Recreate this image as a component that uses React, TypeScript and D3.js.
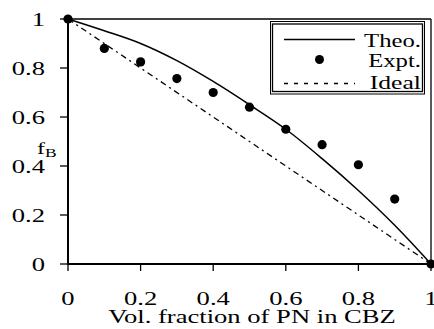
import React from "react";
import * as d3 from "d3";

const xValues = [0, 0.1, 0.2, 0.3, 0.4, 0.5, 0.6, 0.7, 0.8, 0.9, 1];
const theoValues = [1, 0.952, 0.9, 0.83, 0.745, 0.65, 0.55, 0.43, 0.3, 0.158, 0];
const exptValues = [1, 0.88, 0.825, 0.757, 0.7, 0.64, 0.55, 0.487, 0.405, 0.265, 0];
const idealX = [0, 1];
const idealValues = [1, 0];
const xTicks = [0, 0.2, 0.4, 0.6, 0.8, 1];
const yTicks = [0, 0.2, 0.4, 0.6, 0.8, 1];
const legendLabels = ["Theo.", "Expt.", "Ideal"];
const xTitle = "Vol. fraction of PN in CBZ";

const FONT = '"Liberation Serif", "Times New Roman", Times, serif';

function ST({ x, y, anchor = "middle", sx = 1.4, size = 19, children }: any) {
  return (
    <text
      transform={`translate(${x},${y}) scale(${sx},1)`}
      textAnchor={anchor}
      fontSize={size}
      fontFamily={FONT}
      fill="#000"
    >
      {children}
    </text>
  );
}

export default function App() {
  const x = d3.scaleLinear().domain([0, 1]).range([68, 431]);
  const y = d3.scaleLinear().domain([0, 1]).range([264, 19]);
  const fmt = (v: number) => (v === 0 ? "0" : v === 1 ? "1" : String(v));

  const theoLine = d3
    .line<number>()
    .x((_, i) => x(xValues[i]))
    .y((d) => y(d))
    .curve(d3.curveCatmullRom.alpha(0.5))(theoValues) as string;

  const idealLine = d3
    .line<number>()
    .x((_, i) => x(idealX[i]))
    .y((d) => y(d))(idealValues) as string;

  return (
    <svg
      width={434}
      height={329}
      style={{ position: "absolute", left: 0, top: 0, background: "#fff" }}
    >
      <rect x={0} y={0} width={434} height={329} fill="#fff" />
      {/* frame top and right */}
      <line x1={x(0)} x2={x(1)} y1={y(1)} y2={y(1)} stroke="#000" strokeWidth={1.3} />
      <line x1={x(1)} x2={x(1)} y1={y(1)} y2={y(0)} stroke="#000" strokeWidth={1.3} />

      {/* ideal */}
      <path d={idealLine} fill="none" stroke="#000" strokeWidth={1.3} strokeDasharray="6,4,2,4" />
      {/* theo */}
      <path d={theoLine} fill="none" stroke="#000" strokeWidth={1.5} />
      {/* expt */}
      {exptValues.map((v, i) => (
        <circle key={i} cx={x(xValues[i])} cy={y(v)} r={4.6} fill="#000" />
      ))}

      {/* axes */}
      <line x1={x(0)} x2={x(0)} y1={y(1) - 0.5} y2={y(0) + 1} stroke="#000" strokeWidth={2} />
      <line x1={x(0) - 1} x2={x(1)} y1={y(0)} y2={y(0)} stroke="#000" strokeWidth={2} />
      {yTicks.map((t) => (
        <g key={"y" + t}>
          <line x1={x(0) - 8} x2={x(0)} y1={y(t)} y2={y(t)} stroke="#000" strokeWidth={1.3} />
          <ST x={45} y={y(t) + 7} anchor="end">
            {fmt(t)}
          </ST>
        </g>
      ))}
      {xTicks.map((t) => (
        <g key={"x" + t}>
          <line x1={x(t)} x2={x(t)} y1={y(0)} y2={y(0) + 7} stroke="#000" strokeWidth={1.3} />
          <ST x={x(t)} y={305} anchor="middle">
            {fmt(t)}
          </ST>
        </g>
      ))}

      <ST x={252} y={323} anchor="middle">
        {xTitle}
      </ST>
      <text
        transform="translate(37,154) scale(1.4,1)"
        fontFamily={FONT}
        fontSize={17}
        fill="#000"
      >
        f
        <tspan fontSize={12.5} dy={3}>
          B
        </tspan>
      </text>

      {/* legend */}
      <rect x={270.5} y={21.5} width={154} height={72.5} fill="#fff" stroke="#000" strokeWidth={1} />
      <rect x={272.5} y={24} width={150} height={67.5} fill="none" stroke="#000" strokeWidth={1.3} />
      <line x1={284} x2={355} y1={39.5} y2={39.5} stroke="#000" strokeWidth={1.3} />
      <circle cx={319.5} cy={59.5} r={4.5} fill="#000" />
      <line x1={284} x2={355} y1={83.5} y2={83.5} stroke="#000" strokeWidth={1.3} strokeDasharray="4,6" />
      <ST x={421} y={46.5} anchor="end" sx={1.3}>
        {legendLabels[0]}
      </ST>
      <ST x={421} y={66.5} anchor="end" sx={1.3}>
        {legendLabels[1]}
      </ST>
      <ST x={421} y={88.5} anchor="end" sx={1.35}>
        {legendLabels[2]}
      </ST>
    </svg>
  );
}
